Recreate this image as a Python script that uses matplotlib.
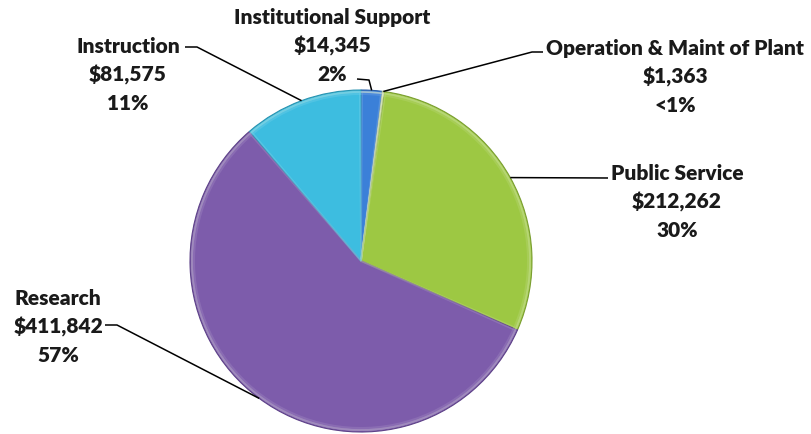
import matplotlib.pyplot as plt
from matplotlib.patches import Wedge
from matplotlib.colors import to_rgb
import numpy as np

# expenditures by function
labels = ["Institutional Support", "Operation & Maint of Plant",
          "Public Service", "Research", "Instruction"]
amounts = [14345, 1363, 212262, 411842, 81575]
pct_text = ["2%", "<1%", "30%", "57%", "11%"]
colors = ["#3b80d8", "#d6e6b8", "#9dc843", "#7d5cab", "#3dbde0"]
edges = ["#2a5fa8", "#a8b890", "#7a9e30", "#5e4288", "#2a93b0"]

W, H = 811, 434
fig = plt.figure(figsize=(W / 100, H / 100), dpi=100)
ax = fig.add_axes([0, 0, 1, 1])

cx, cy, r = 361, 173, 171
wedges, _ = ax.pie(amounts, colors=colors, startangle=90, counterclock=False,
                   radius=r, center=(cx, cy), frame=True,
                   wedgeprops=dict(linewidth=0.8))
for w, ec in zip(wedges, edges):
    w.set_edgecolor(ec)


def lighter(c, f):
    c = np.array(to_rgb(c))
    return tuple(c + (1 - c) * f)


# soft bevel: pale rim and pale inner edge on every slice
for w, c in zip(wedges, colors):
    ax.add_patch(Wedge((cx, cy), r - 1, w.theta1, w.theta2, width=4,
                       facecolor=lighter(c, 0.2), edgecolor="none",
                       alpha=0.5, zorder=2))
    ax.add_patch(Wedge((cx, cy), r - 2, w.theta1 + 0.4, w.theta2 - 0.4,
                       facecolor="none", edgecolor=lighter(c, 0.25),
                       lw=1.2, alpha=0.5, zorder=2))

ax.set_xlim(0, W)
ax.set_ylim(0, H)
ax.set_aspect("equal")
ax.axis("off")

# label centre (x, middle-line y) and leader (start, elbow) in pixels
text_pos = [(332, H - 46), (675, H - 77), (677, H - 202),
            (58, H - 327), (128, H - 75)]
leader_start = [(357, H - 79), (543, H - 52), (608, H - 178),
                (105, H - 325), (185, H - 47)]
leader_elbow = [(369, H - 80), (532, H - 52), (608, H - 178),
                (117, H - 325), (197, H - 47)]

font = dict(family=["Lato", "DejaVu Sans"], fontweight="heavy", fontsize=15,
            color="#1a1a1a")

for i, w in enumerate(wedges):
    mid = np.deg2rad((w.theta1 + w.theta2) / 2)
    tx, ty = cx + r * np.cos(mid), cy + r * np.sin(mid)
    x0, y0 = text_pos[i]
    txt = f"{labels[i]}\n${amounts[i]:,}\n{pct_text[i]}"
    ax.text(x0, y0, txt, ha="center", va="center", linespacing=1.55,
            zorder=5, **font)
    sx, sy = leader_start[i]
    ex, ey = leader_elbow[i]
    ax.plot([sx, ex, tx], [sy, ey, ty], color="black", lw=1.1,
            solid_capstyle="butt", zorder=4)

fig.savefig("out.png", dpi=100)
